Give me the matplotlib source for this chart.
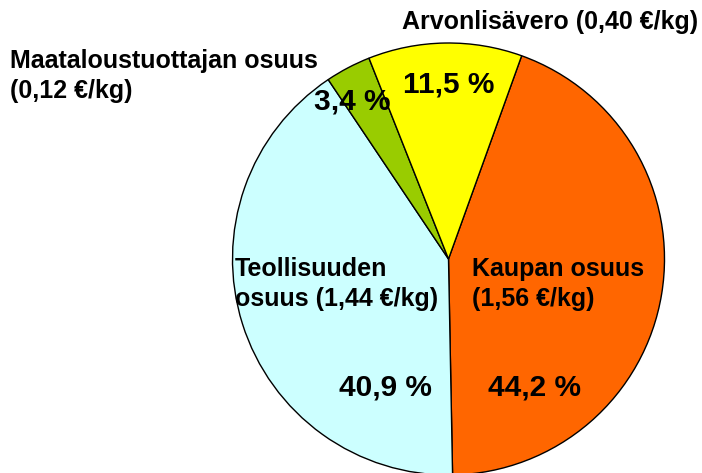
import matplotlib
matplotlib.use("Agg")
import matplotlib.pyplot as plt

# osuudet kuluttajahinnasta (%), myötäpäivään ylhäältä oikealta
osuudet = [44.2, 40.9, 3.4, 11.5]
prosentit = ["44,2 %", "40,9 %", "3,4 %", "11,5 %"]
nimet = ["Kaupan osuus\n(1,56 €/kg)",
         "Teollisuuden\nosuus (1,44 €/kg)",
         "Maataloustuottajan osuus\n(0,12 €/kg)",
         "Arvonlisävero (0,40 €/kg)"]
varit = ["#FF6600", "#CCFFFF", "#99CC00", "#FFFF00"]

plt.rcParams['font.family'] = ['Liberation Sans', 'DejaVu Sans']

W, H = 702, 473
fig = plt.figure(figsize=(W / 100, H / 100), dpi=100)
ax = fig.add_axes([0, 0, 1, 1])

ax.pie(osuudet, colors=varit, startangle=70.2, counterclock=False,
       center=(448.5, H - 259), radius=216,
       wedgeprops=dict(edgecolor="black", linewidth=1))
ax.set_xlim(0, W)
ax.set_ylim(0, H)
ax.set_aspect("equal")
ax.axis("off")

# tekstien paikat pikseleinä (x, y ylhäältä)
nimi_paikat = [(472, 284), (235, 284), (10, 76), (402, 22)]
pros_paikat = [(535, 387), (385, 387), (352, 101), (449, 85)]

for teksti, (x, y) in zip(nimet, nimi_paikat):
    ax.text(x, H - y, teksti, ha="left", va="center", fontsize=18, fontweight="bold",
            linespacing=1.33)
for teksti, (x, y) in zip(prosentit, pros_paikat):
    ax.text(x, H - y, teksti, ha="center", va="center", fontsize=21.5, fontweight="bold")

fig.savefig("out.png", dpi=100)
